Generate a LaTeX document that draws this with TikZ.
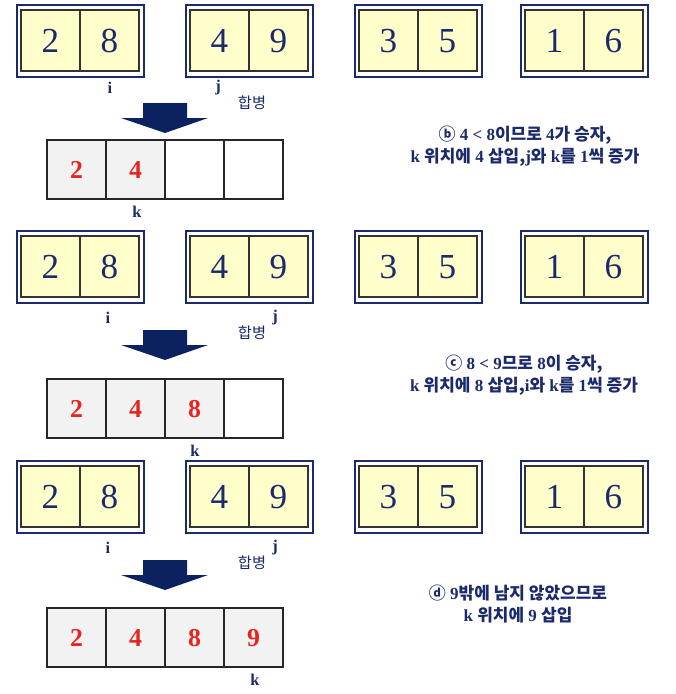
\documentclass[tikz,border=0pt]{standalone}
\usepackage{fontspec}
\setmainfont{Liberation Serif}
\newfontfamily\kr{Noto Sans CJK KR}
\newcommand{\hg}[1]{{\kr #1}}
\definecolor{navy}{HTML}{1B2A6B}
\definecolor{arrownavy}{HTML}{0B2160}
\definecolor{paleyellow}{HTML}{FFFFCC}
\definecolor{cellgray}{HTML}{F2F2F2}
\definecolor{winred}{HTML}{E52521}

\begin{document}
\begin{tikzpicture}[x=0.03cm, y=-0.03cm,
    frame/.style={draw=navy, line width=1.5pt},
    pairbox/.style={draw=black!80, fill=paleyellow, line width=0.9pt},
    cell/.style={draw=black!85, line width=0.9pt},
    digit/.style={text=navy, font=\fontsize{30}{30}\selectfont},
    win/.style={text=winred, font=\bfseries\fontsize{22}{22}\selectfont},
    idx/.style={text=navy, font=\bfseries\fontsize{14}{14}\selectfont},
    merge/.style={text=navy, font=\kr\fontsize{13}{13}\selectfont},
    expl/.style={text=navy, align=center, font=\bfseries\fontsize{14.5}{19}\selectfont}]

    \useasboundingbox (0,0) rectangle (676,694);

    % one panel per step: pair top, arrow top, result top, filled cells, k x, i x, j x, label y
    \foreach \pt/\at/\rt/\nf/\kx/\ix/\jx/\iy [count=\p] in
        {5/103/140/2/137/110/218/88, 231/330/379/3/195/108/275/318, 461/560/608/4/255/108/275/548} {

        % the four sorted pairs
        \foreach \x/\a/\b [count=\q] in {17/2/8, 186/4/9, 355/3/5, 521/1/6} {
            \draw[frame] (\x,\pt) rectangle ++(127,72);
            \draw[pairbox] (\x+4,\pt+5) rectangle (\x+122,\pt+66);
            \draw[pairbox] (\x+63,\pt+5) -- (\x+63,\pt+66);
            \node[digit] (d\p\q a) at (\x+33.5,\pt+36) {\a};
            \node[digit] (d\p\q b) at (\x+92.5,\pt+36) {\b};
        }

        % index labels
        \node[idx] (i\p) at (\ix,\iy) {i};
        \node[idx] (j\p) at (\jx,\iy) {j};
        \node[merge] (m\p) at (252,\iy+15) {합병};

        % block arrow
        \fill[arrownavy] (143,\at) -- (187,\at) -- (187,\at+15) -- (208,\at+15)
            -- (165,\at+30) -- (121,\at+15) -- (143,\at+15) -- cycle;

        % merged array
        \foreach \c/\v in {0/2, 1/4, 2/8, 3/9} {
            \ifnum\c<\nf
                \draw[cell, fill=cellgray] (47+59*\c,\rt) rectangle ++(59,59);
                \node[win] (r\p\c) at (76.5+59*\c,\rt+30) {\v};
            \else
                \draw[cell, fill=white] (47+59*\c,\rt) rectangle ++(59,59);
            \fi
        }
        \node[idx] (k\p) at (\kx,\rt+72) {k};
    }

    % step notes
    \node[expl] (note1) at (525,146)
        {\hg{ⓑ} 4 < 8\hg{이므로} 4\hg{가 승자,}\\
         k \hg{위치에} 4 \hg{삽입,}j\hg{와} k\hg{를} 1\hg{씩 증가}};
    \node[expl] (note2) at (524,375)
        {\hg{ⓒ} 8 < 9\hg{므로} 8\hg{이 승자,}\\
         k \hg{위치에} 8 \hg{삽입,}i\hg{와} k\hg{를} 1\hg{씩 증가}};
    \node[expl] (note3) at (518,604)
        {\hg{ⓓ} 9\hg{밖에 남지 않았으므로}\\
         k \hg{위치에} 9 \hg{삽입}};

\end{tikzpicture}
\end{document}
